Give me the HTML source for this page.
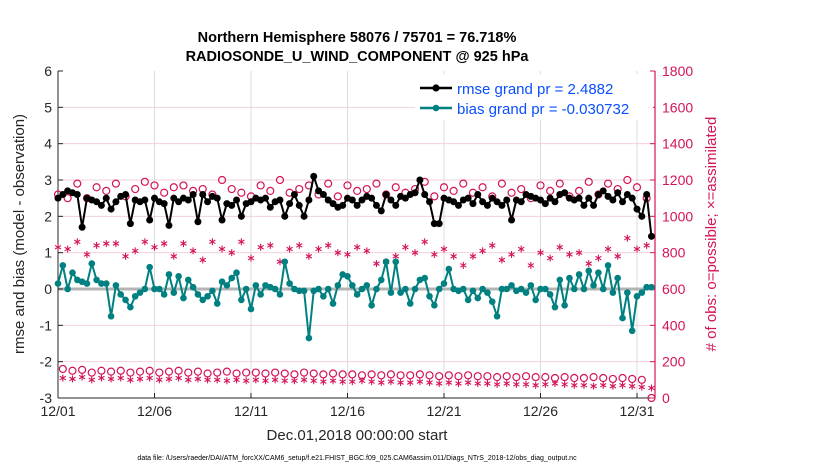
<!DOCTYPE html>
<html><head><meta charset="utf-8"><style>
body{margin:0;background:#fff;}
svg text{font-family:"Liberation Sans",sans-serif;}
</style></head><body>
<svg id="c" width="830" height="470" xmlns="http://www.w3.org/2000/svg"></svg>
<script>
const rmse=[2.5,2.6,2.7,2.65, 2.6,1.7,2.5,2.45, 2.4,2.3,2.5,2.2, 2.4,2.55,2.6,1.8, 2.45,2.4,2.45,1.9, 2.5,2.4,2.35,1.75, 2.5,2.4,2.5,2.45, 2.6,1.85,2.6,2.4, 2.55,2.5,1.9,2.35, 2.3,2.45,2.0,2.35, 2.4,2.5,2.45,2.5, 2.25,2.4,2.45,2.0, 2.35,2.6,2.3,2.0, 2.45,3.1,2.7,2.6, 2.45,2.35,2.25,2.3, 2.5,2.45,2.3,2.45, 2.55,2.5,2.3,2.15, 2.6,2.45,2.3,2.55, 2.5,2.6,2.65,3.0, 2.6,2.4,1.8,1.8, 2.5,2.45,2.4,2.3, 2.45,2.5,2.35,2.6, 2.4,2.3,2.5,2.4, 2.3,2.45,1.9,2.45, 2.4,2.6,2.55,2.5, 2.45,2.35,2.5,2.4, 2.6,2.65,2.5,2.45, 2.5,2.3,2.5,2.3, 2.6,2.7,2.55,2.45, 2.65,2.4,2.6,2.5, 2.2,2.0,2.6,1.45];
const bias=[0.15,0.65,0.0,0.45, 0.25,0.2,0.15,0.7, 0.25,0.15,0.15,-0.75, 0.1,-0.15,-0.3,-0.5, -0.2,-0.1,0.0,0.6, 0.0,0.0,-0.15,0.4, -0.1,0.35,-0.25,0.25, 0.05,-0.15,-0.3,-0.2, -0.05,-0.4,0.2,0.1, 0.3,0.45,-0.3,0.0, -0.55,0.1,-0.15,0.1, 0.05,0.0,-0.15,0.75, 0.15,0.0,-0.05,-0.05, -1.35,-0.05,0.0,-0.2, 0.0,-0.4,0.1,0.4, 0.35,0.1,-0.15,0.0, 0.1,-0.45,0.0,0.25, 0.75,-0.1,0.75,-0.1, 0.0,-0.4,0.0,0.25, 0.3,-0.2,-0.45,0.0, 0.15,0.55,0.0,-0.05, 0.0,-0.3,-0.05,-0.25, 0.0,-0.1,-0.35,-0.75, 0.0,0.0,0.1,-0.05, 0.0,-0.1,0.1,-0.3, 0.0,0.0,-0.15,-0.5, 0.25,-0.45,0.3,0.0, 0.4,0.0,0.5,0.1, 0.45,0.0,0.65,-0.1, 0.3,-0.8,-0.1,-1.15, -0.2,-0.1,0.05,0.05];
const possible=[1120,160,1100,150, 1180,155,1100,140, 1160,150,1140,145, 1180,150,1110,140, 1150,145,1190,150, 1170,140,1130,145, 1160,150,1170,140, 1140,145,1150,135, 1120,140,1200,145, 1150,135,1130,140, 1110,140,1170,135, 1140,140,1200,135, 1130,130,1150,140, 1170,135,1120,130, 1180,135,1110,130, 1170,130,1140,125, 1150,130,1180,125, 1120,130,1160,125, 1130,125,1150,130, 1190,125,1110,120, 1160,125,1140,120, 1180,125,1130,120, 1160,120,1110,115, 1180,120,1130,115, 1150,120,1100,115, 1170,115,1140,110, 1180,115,1110,110, 1140,110,1190,115, 1120,110,1180,105, 1150,110,1200,105, 1160,100,1100,0];
const assimilated=[830,110,820,105, 860,115,790,100, 840,110,850,105, 850,110,780,100, 810,105,860,110, 830,100,850,105, 780,110,850,100, 810,105,760,100, 860,100,820,95, 800,100,860,95, 770,100,830,95, 840,100,750,95, 820,95,840,100, 780,95,820,90, 840,95,800,90, 790,90,830,95, 810,90,740,85, 750,90,780,85, 830,85,800,90, 860,85,790,80, 820,85,780,80, 730,85,780,80, 810,80,840,75, 760,80,790,75, 820,75,730,70, 800,75,770,80, 830,75,790,70, 800,70,740,65, 770,70,820,65, 780,70,880,65, 820,60,840,55];
const xTicks=['12/01','12/06','12/11','12/16','12/21','12/26','12/31'];
const yTicks=[-3,-2,-1,0,1,2,3,4,5,6];
const yRTicks=[0,200,400,600,800,1000,1200,1400,1600,1800];

const NS='http://www.w3.org/2000/svg';
const svg=document.getElementById('c');
const L=58,R=655,T=71,B=398;
const PXDAY=19.3;
const xs=i=>L+i*0.25*PXDAY;
const ys=v=>B-(v+3)/9*(B-T);
const yr=v=>B-v/1800*(B-T);
function el(tag,at,name,parent){const e=document.createElementNS(NS,tag);for(const k in at)e.setAttribute(k,at[k]);


(parent||svg).appendChild(e);return e;}
function txt(s,at,name){const e=el('text',at,name);e.textContent=s;return e;}

yTicks.forEach(v=>{if(v>-3&&v<6&&v!==0)el('line',{x1:L,x2:R,y1:ys(v),y2:ys(v),stroke:'#f2d0dc','stroke-width':1},'y-gridline');});
xTicks.forEach((t,k)=>{const x=L+k*5*PXDAY;if(k>0)el('line',{x1:x,x2:x,y1:T,y2:B,stroke:'#dcdcdc','stroke-width':1},'x-gridline');});
el('line',{x1:L,x2:R,y1:ys(0),y2:ys(0),stroke:'#b4b4b4','stroke-width':3},'zero-line');

el('line',{x1:L,x2:L,y1:T,y2:B,stroke:'#262626','stroke-width':1},'left-axis');
el('line',{x1:L,x2:R,y1:B,y2:B,stroke:'#262626','stroke-width':1},'bottom-axis');
el('line',{x1:R,x2:R,y1:T,y2:B,stroke:'#d4145a','stroke-width':1.2},'right-axis');
yTicks.forEach(v=>{const y=ys(v);el('line',{x1:L,x2:L+5,y1:y,y2:y,stroke:'#262626'},'y-tick');
txt(String(v),{x:L-6,y:y+5,'text-anchor':'end','font-size':14,fill:'#262626'},'y-tick-label');});
yRTicks.forEach(v=>{const y=yr(v);el('line',{x1:R-5,x2:R,y1:y,y2:y,stroke:'#d4145a'},'y-right-tick');
txt(String(v),{x:R+7,y:y+5,'font-size':14,fill:'#d4145a'},'y-right-tick-label');});
xTicks.forEach((t,k)=>{const x=L+k*5*PXDAY;el('line',{x1:x,x2:x,y1:B,y2:B-5,stroke:'#262626'},'x-tick');
txt(t,{x:x,y:B+18,'text-anchor':'middle','font-size':14,fill:'#262626'},'x-tick-label');});

function star(x,y,name){const g=el('g',{stroke:'#d4145a','stroke-width':1.1},name);
[[0,3.5],[3,1.8],[3,-1.8]].forEach(d=>el('line',{x1:x-d[0],y1:y-d[1],x2:x+d[0],y2:y+d[1]},'asterisk-stroke',g));}
possible.forEach((v,i)=>el('circle',{cx:xs(i),cy:yr(v),r:3.5,fill:'none',stroke:'#d4145a','stroke-width':1.2},'possible-obs-marker'));
assimilated.forEach((v,i)=>star(xs(i),yr(v),'assimilated-obs-marker'));

function series(arr,col,name,r){
el('polyline',{points:arr.map((v,i)=>xs(i)+','+ys(v)).join(' '),fill:'none',stroke:col,'stroke-width':2},name+'-line');
arr.forEach((v,i)=>el('circle',{cx:xs(i),cy:ys(v),r:r,fill:col},name+'-point'));}
series(bias,'#008080','bias',3.3);
series(rmse,'#000000','rmse',3.5);

const lg=el('g',{},'legend');
el('rect',{x:415,y:74,width:238,height:46,fill:'#fff',stroke:'none'},'legend-box',lg);
el('line',{x1:420,x2:452,y1:88,y2:88,stroke:'#000','stroke-width':2.5},'legend-rmse-line',lg);
el('circle',{cx:436,cy:88,r:3.6,fill:'#000'},'legend-rmse-marker',lg);
txt('rmse grand pr = 2.4882',{x:457,y:94,'font-size':15,fill:'#0a4fff'},'legend-rmse-label');
el('line',{x1:420,x2:452,y1:108,y2:108,stroke:'#008080','stroke-width':2.5},'legend-bias-line',lg);
el('circle',{cx:436,cy:108,r:3.3,fill:'#008080'},'legend-bias-marker',lg);
txt('bias grand pr = -0.030732',{x:457,y:114,'font-size':15,fill:'#0a4fff'},'legend-bias-label');

txt('Northern Hemisphere 58076 / 75701 = 76.718%',{x:357,y:42,'text-anchor':'middle','font-size':14.5,'font-weight':'bold',fill:'#000'},'chart-title');
txt('RADIOSONDE_U_WIND_COMPONENT @ 925 hPa',{x:357,y:61,'text-anchor':'middle','font-size':14.5,'font-weight':'bold',fill:'#000'},'chart-subtitle');
txt('Dec.01,2018 00:00:00 start',{x:357,y:440,'text-anchor':'middle','font-size':15,fill:'#262626'},'x-axis-title');
txt('rmse and bias (model - observation)',{x:0,y:0,transform:'translate(24,234) rotate(-90)','text-anchor':'middle','font-size':15,fill:'#262626'},'y-axis-title');
txt('# of obs: o=possible; \u00d7=assimilated',{x:0,y:0,transform:'translate(716,234) rotate(-90)','text-anchor':'middle','font-size':15,fill:'#d4145a'},'y-right-axis-title');
txt('data file: /Users/raeder/DAI/ATM_forcXX/CAM6_setup/f.e21.FHIST_BGC.f09_025.CAM6assim.011/Diags_NTrS_2018-12/obs_diag_output.nc',{x:357,y:460,'text-anchor':'middle','font-size':7,fill:'#000'},'data-file-note');
</script>
</body></html>
